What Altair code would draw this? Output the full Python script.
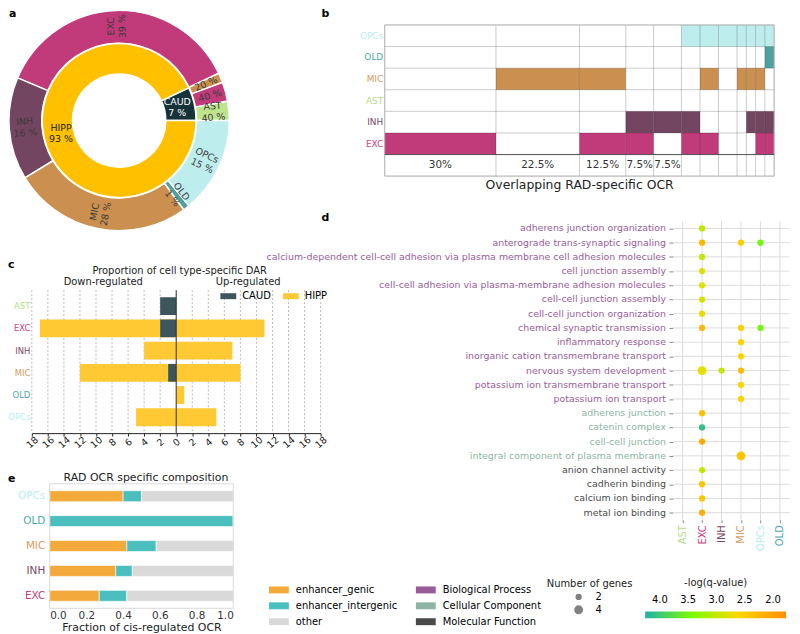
import altair as alt
import numpy as np
import pandas as pd

W, H = 790, 626


def P(v):
    """image pixel -> plot pixel (page margin is 8px)"""
    return v - 8


# ------------------------------------------------------------------ colours
CELL_FILL = {"AST": "#BFE48D", "EXC": "#C13B7A", "INH": "#734560",
             "MIC": "#CB8F4F", "OLD": "#4DA19F", "OPCs": "#BEEDEE"}
CELL_TEXT = {"AST": "#B3DE86", "EXC": "#C8427F", "INH": "#7A4A66",
             "MIC": "#D69C5E", "OLD": "#4DAAA6", "OPCs": "#B8EEF0"}
REGION_FILL = {"CAUD": "#17333A", "HIPP": "#FFC000"}

# ------------------------------------------------------------------ panel a data
regions = ["CAUD", "HIPP"]
region_pct = [7, 93]
caud_cells = ["AST", "EXC", "MIC"]
caud_pct = [40, 40, 20]
caud_named = [True, False, False]
hipp_cells = ["EXC", "INH", "MIC", "OLD", "OPCs"]
hipp_pct = [39, 16, 28, 1, 15]

# ------------------------------------------------------------------ panel b data
b_rows = ["OPCs", "OLD", "MIC", "AST", "INH", "EXC"]
b_pct = [30, 22.5, 12.5, 7.5, 7.5, 5, 5, 5, 2.5, 2.5, 2.5, 2.5]
b_label = ["30%", "22.5%", "12.5%", "7.5%", "7.5%", "", "", "", "", "", "", ""]
b_members = [["EXC"], ["MIC"], ["MIC", "EXC"], ["INH", "EXC"], ["INH"],
             ["OPCs", "INH", "EXC"], ["OPCs", "MIC", "EXC"], ["OPCs"],
             ["OPCs", "MIC"], ["OPCs", "MIC", "INH"],
             ["OPCs", "MIC", "INH", "EXC"], ["OPCs", "OLD", "INH", "EXC"]]

# ------------------------------------------------------------------ panel c data
c_cells = ["AST", "EXC", "INH", "MIC", "OLD", "OPCs"]
c_hipp_down = [0, 17, 4, 12, 0, 5]
c_hipp_up = [0, 11, 7, 8, 1, 5]
c_caud_down = [2, 2, 0, 1, 0, 0]
c_caud_up = [0, 0, 0, 0, 0, 0]
c_ticks = list(range(-18, 19, 2))

# ------------------------------------------------------------------ panel d data
d_terms = ["adherens junction organization",
           "anterograde trans-synaptic signaling",
           "calcium-dependent cell-cell adhesion via plasma membrane cell adhesion molecules",
           "cell junction assembly",
           "cell-cell adhesion via plasma-membrane adhesion molecules",
           "cell-cell junction assembly",
           "cell-cell junction organization",
           "chemical synaptic transmission",
           "inflammatory response",
           "inorganic cation transmembrane transport",
           "nervous system development",
           "potassium ion transmembrane transport",
           "potassium ion transport",
           "adherens junction",
           "catenin complex",
           "cell-cell junction",
           "integral component of plasma membrane",
           "anion channel activity",
           "cadherin binding",
           "calcium ion binding",
           "metal ion binding"]
d_term_cat = (["Biological Process"] * 13 + ["Cellular Component"] * 4
              + ["Molecular Function"] * 4)
d_cats = ["Biological Process", "Cellular Component", "Molecular Function"]
d_cat_colors = ["#985C98", "#8DB4A4", "#4A4A4A"]
d_cols = ["AST", "EXC", "INH", "MIC", "OPCs", "OLD"]
d_pt_term = [0, 1, 1, 1, 2, 3, 4, 5, 6, 7, 7, 7, 8, 9, 10, 10, 10,
             11, 12, 13, 14, 15, 16, 17, 18, 19, 20]
d_pt_cell = ["EXC", "EXC", "MIC", "OPCs", "EXC", "EXC", "EXC", "EXC", "EXC",
             "EXC", "MIC", "OPCs", "MIC", "MIC", "EXC", "INH", "MIC",
             "MIC", "MIC", "EXC", "EXC", "EXC", "MIC", "EXC", "EXC", "EXC", "EXC"]
d_pt_q = [3.0, 2.25, 2.5, 3.5, 3.0, 2.8, 2.8, 2.85, 2.75, 2.25, 2.5, 3.5,
          2.55, 2.55, 2.75, 3.0, 2.3, 2.55, 2.55, 2.35, 4.1, 2.1, 2.4,
          3.0, 2.4, 2.4, 2.15]
d_pt_genes = [2, 2, 2, 2, 2, 2, 2, 2, 2, 2, 2, 2, 2, 2, 4, 2, 2,
              2, 2, 2, 2, 2, 4, 2, 2, 2, 2]
q_domain = [4.26, 3.43, 2.6, 1.77]
q_colors = ["#20B2AA", "#7CFC00", "#FFD700", "#FF8C00"]
q_ticks = [4.0, 3.5, 3.0, 2.5, 2.0]

# ------------------------------------------------------------------ panel e data
e_cells = ["OPCs", "OLD", "MIC", "INH", "EXC"]
e_genic = [0.40, 0.0, 0.42, 0.36, 0.27]
e_inter = [0.10, 1.0, 0.16, 0.09, 0.15]
e_other = [0.50, 0.0, 0.42, 0.55, 0.58]
e_comp = ["enhancer_genic", "enhancer_intergenic", "other"]
e_colors = ["#F4AA3B", "#4BBFBE", "#D9D9D9"]


# ------------------------------------------------------------------ helpers
def cond(mapping, default="#333333"):
    return {"condition": [{"test": f"datum.value === '{k}'", "value": v}
                          for k, v in mapping.items()],
            "value": default}


def txt(s, x, y, size=10, weight="normal", align="center", color="#222222"):
    return alt.Chart(pd.DataFrame({"t": [s]})).mark_text(
        fontSize=size, fontWeight=weight, align=align, baseline="middle",
        color=color).encode(text="t:N", x=alt.value(P(x)), y=alt.value(P(y)))


one = pd.DataFrame({"a": [0]})
RECT_WIDE = "M-1,-0.35H1V0.35H-1Z"
TWO_LINE_DY = {"expr": "indexof(datum.lbl, '\\n') >= 0 ? -6 : 0"}

# ================================================================== panel a
inner = pd.DataFrame({"key": regions, "v": region_pct,
                      "lbl": [f"{r}\n{p} %" for r, p in zip(regions, region_pct)]})
inner["order"] = range(len(inner))

o_keys, o_cells, o_vals, o_lbls = [], [], [], []
for c, p, nm in zip(caud_cells, caud_pct, caud_named):
    o_keys.append("CAUD_" + c); o_cells.append(c)
    o_vals.append(region_pct[0] * p / 100.0)
    o_lbls.append(f"{c}\n{p} %" if nm else f"{p} %")
for c, p in zip(hipp_cells, hipp_pct):
    o_keys.append("HIPP_" + c); o_cells.append(c)
    o_vals.append(region_pct[1] * p / 100.0)
    o_lbls.append(f"{c}\n{p} %")
outer = pd.DataFrame({"key": o_keys, "cell": o_cells, "v": o_vals, "lbl": o_lbls})
outer["order"] = range(len(outer))
mid = (outer.v.cumsum() - outer.v / 2) / outer.v.sum() * 360.0
rot = np.where(np.cos(np.radians(mid)) >= -0.05, mid, mid + 180.0)
outer["ang"] = (-rot) % 360.0

theta_sc = alt.Scale(range=[2.5 * np.pi, 0.5 * np.pi])
CX, CY = alt.value(P(120)), alt.value(P(119))
theta_enc = alt.Theta("v:Q", stack="normalize", scale=theta_sc)

outer_arc = alt.Chart(outer).mark_arc(radius=111, radius2=78, stroke="white",
                                      strokeWidth=1.5).encode(
    theta=theta_enc, order=alt.Order("order:Q"),
    color=alt.Color("key:N", scale=alt.Scale(domain=o_keys,
                                             range=[CELL_FILL[c] for c in o_cells]),
                    legend=None),
    x=CX, y=CY)
outer_txt = alt.Chart(outer).mark_text(radius=95, fontSize=9.5, lineBreak="\n",
                                       color="#3A3A3A", dy=TWO_LINE_DY).encode(
    theta=theta_enc, order=alt.Order("order:Q"), detail="key:N",
    text="lbl:N", angle=alt.Angle("ang:Q", scale=None), x=CX, y=CY)
inner_arc = alt.Chart(inner).mark_arc(radius=77.5, radius2=47, stroke="white",
                                      strokeWidth=1.5).encode(
    theta=theta_enc, order=alt.Order("order:Q"),
    color=alt.Color("key:N", scale=alt.Scale(domain=regions,
                                             range=[REGION_FILL[r] for r in regions]),
                    legend=None),
    x=CX, y=CY)
inner_txt = alt.Chart(inner).mark_text(radius=60, fontSize=9.5, lineBreak="\n",
                                       dy=TWO_LINE_DY).encode(
    theta=theta_enc, order=alt.Order("order:Q"),
    color=alt.Color("key:N", scale=alt.Scale(domain=regions, range=["#FFFFFF", "#222222"]),
                    legend=None),
    text="lbl:N", x=CX, y=CY)

# ================================================================== panel b
b_total = float(sum(b_pct))
b_x1 = np.cumsum(b_pct)
b_x0 = b_x1 - np.array(b_pct)
b_cells = pd.DataFrame([{"row": r, "x0": b_x0[i], "x1": b_x1[i]}
                        for i, mem in enumerate(b_members) for r in mem])
b_grid = pd.DataFrame([{"row": r, "x0": b_x0[i], "x1": b_x1[i]}
                       for i in range(len(b_pct)) for r in b_rows + ["strip"]])
b_cols = pd.DataFrame({"row": "strip", "mid": (b_x0 + b_x1) / 2, "lbl": b_label})

bx = alt.Scale(domain=[0, b_total], range=[P(387.6), P(780)], nice=False, zero=False)
by = alt.Scale(type="band", domain=b_rows + ["strip"], range=[P(22.7), P(175)],
               paddingInner=0, paddingOuter=0)

b_fill = alt.Chart(b_cells).mark_rect().encode(
    x=alt.X("x0:Q", scale=bx, axis=None), x2="x1:Q",
    y=alt.Y("row:N", scale=by, axis=alt.Axis(
        orient="left", offset=-P(387.6), title=None, ticks=False, domain=False,
        grid=False, labelFontSize=9, labelPadding=2, labelColor=cond(CELL_TEXT),
        labelExpr="datum.value == 'strip' ? '' : datum.value")),
    color=alt.Color("row:N", scale=alt.Scale(domain=b_rows,
                                             range=[CELL_FILL[r] for r in b_rows]),
                    legend=None))
b_gridl = alt.Chart(b_grid).mark_rect(fillOpacity=0, stroke="#000000",
                                      strokeOpacity=0.11, strokeWidth=1).encode(
    x=alt.X("x0:Q", scale=bx, axis=None), x2="x1:Q",
    y=alt.Y("row:N", scale=by, axis=None))
b_frame = alt.Chart(one).mark_rect(fillOpacity=0, stroke="#B4B4B4", strokeWidth=1).encode(
    x=alt.X(datum=0, type="quantitative", scale=bx, axis=None),
    x2=alt.X2(datum=b_total), y=alt.value(P(22.7)), y2=alt.value(P(175)))
b_base = alt.Chart(one).mark_rule(color="#555555", strokeWidth=1).encode(
    x=alt.X(datum=0, type="quantitative", scale=bx, axis=None),
    x2=alt.X2(datum=b_total), y=alt.value(P(153.3)))
b_text = alt.Chart(b_cols).mark_text(fontSize=10.5, color="#333333").encode(
    x=alt.X("mid:Q", scale=bx, axis=None),
    y=alt.Y("row:N", scale=by, axis=None), text="lbl:N")

# ================================================================== panel c
c_rows = []
for reg, down, up in (("HIPP", c_hipp_down, c_hipp_up), ("CAUD", c_caud_down, c_caud_up)):
    for cell, d, u in zip(c_cells, down, up):
        if d:
            c_rows.append({"cell": cell, "region": reg, "x0": -d, "x1": 0})
        if u:
            c_rows.append({"cell": cell, "region": reg, "x0": 0, "x1": u})
c_df = pd.DataFrame(c_rows)

cx = alt.Scale(domain=[-18, 18], range=[P(32), P(323)], nice=False, zero=False)
cy = alt.Scale(type="band", domain=c_cells, range=[P(290), P(434)],
               paddingInner=0.2, paddingOuter=0.315)

c_grid = alt.Chart(pd.DataFrame({"t": c_ticks})).mark_rule(
    color="#9A9A9A", strokeWidth=0.7, strokeDash=[2, 2]).encode(
    x=alt.X("t:Q", scale=cx, axis=None), y=alt.value(P(290)), y2=alt.value(P(434)))
c_bars = alt.Chart(c_df).mark_bar().encode(
    x=alt.X("x0:Q", scale=cx, axis=alt.Axis(
        orient="bottom", offset=P(434) - H, values=c_ticks,
        labelExpr="'' + abs(datum.value)", labelAngle=320, labelAlign="center",
        labelBaseline="middle", labelPadding=6, tickSize=3, labelFontSize=9.5,
        grid=False, domainColor="#222222", tickColor="#222222", labelColor="#222222",
        title=None)),
    x2="x1:Q",
    y=alt.Y("cell:N", scale=cy, axis=alt.Axis(
        orient="left", offset=-P(32), title=None, ticks=False, domain=False,
        grid=False, labelFontSize=8.5, labelPadding=2, labelColor=cond(CELL_TEXT))),
    color=alt.Color("region:N",
                    scale=alt.Scale(domain=["CAUD", "HIPP"], range=["#3C565C", "#FFC933"]),
                    legend=alt.Legend(orient="none", legendX=P(222), legendY=P(288),
                                      direction="horizontal", title=None,
                                      symbolType="M-1,-0.375H1V0.375H-1Z", symbolSize=256,
                                      symbolStrokeWidth=0, labelFontSize=10, labelOffset=6,
                                      columnPadding=12, padding=0)))
c_zero = alt.Chart(one).mark_rule(color="#333333", strokeWidth=1).encode(
    x=alt.X(datum=0, type="quantitative", scale=cx, axis=None),
    y=alt.value(P(290)), y2=alt.value(P(434)))

# ================================================================== panel d
d_pts = pd.DataFrame({"term": [d_terms[i] for i in d_pt_term], "cell": d_pt_cell,
                      "q": d_pt_q, "genes": d_pt_genes})
d_lab = pd.DataFrame({"term": d_terms, "cat": d_term_cat})

dx = alt.Scale(type="point", domain=d_cols, range=[P(678), P(795.6)], padding=0.5)
dy = alt.Scale(type="point", domain=d_terms, range=[P(220.6), P(521.3)], padding=0.5)

d_vgrid = alt.Chart(pd.DataFrame({"cell": d_cols})).mark_rule(
    color="#DCDCDC", strokeWidth=1).encode(
    x=alt.X("cell:N", scale=dx, axis=None), y=alt.value(P(220.6)), y2=alt.value(P(521.3)))
d_hgrid = alt.Chart(pd.DataFrame({"term": d_terms})).mark_rule(
    color="#DCDCDC", strokeWidth=1).encode(
    y=alt.Y("term:N", scale=dy, axis=None), x=alt.value(P(678)), x2=alt.value(P(795.6)))
d_dots = alt.Chart(d_pts).mark_circle(opacity=1).encode(
    x=alt.X("cell:N", scale=dx, axis=alt.Axis(
        orient="bottom", offset=P(521.3) - H, labelAngle=270, labelColor=cond(CELL_TEXT),
        labelFontSize=10, tickSize=3, tickColor="#888888", grid=False,
        domain=False, title=None, labelPadding=2)),
    y=alt.Y("term:N", scale=dy, axis=alt.Axis(
        orient="left", offset=-P(678), labels=False, tickSize=4, tickColor="#888888",
        grid=False, domain=False, title=None)),
    color=alt.Color("q:Q", scale=alt.Scale(domain=q_domain, range=q_colors, interpolate="rgb"),
                    legend=alt.Legend(orient="none", legendX=P(650), legendY=P(613.6),
                                      direction="horizontal", gradientLength=142,
                                      gradientThickness=7, title=None, values=q_ticks,
                                      format=".1f", labelFontSize=10,
                                      labelOffset={"expr": "-23"},
                                      labelAlign="center", padding=0)),
    size=alt.Size("genes:Q", scale=alt.Scale(domain=[0, 4], range=[0, 80]),
                  legend=alt.Legend(orient="none", legendX=P(578), legendY=P(594),
                                    title=None, values=[2, 4], symbolType="circle",
                                    symbolFillColor="#808080", symbolStrokeWidth=0,
                                    symbolOpacity=1, labelFontSize=10, labelOffset=12,
                                    rowPadding=3, padding=0)))
d_labels = alt.Chart(d_lab).mark_text(align="right", baseline="middle", fontSize=9.5).encode(
    y=alt.Y("term:N", scale=dy, axis=None), x=alt.value(P(671)), text="term:N",
    color=alt.Color("cat:N", scale=alt.Scale(domain=d_cats, range=d_cat_colors),
                    legend=alt.Legend(orient="none", legendX=P(419), legendY=P(582),
                                      title=None, symbolType=RECT_WIDE, symbolSize=400,
                                      symbolStrokeWidth=0, symbolOpacity=1,
                                      labelFontSize=10, labelOffset=7, rowPadding=1,
                                      padding=0)))

# ================================================================== panel e
e_rows = []
for ci, (comp, vals) in enumerate(zip(e_comp, (e_genic, e_inter, e_other))):
    for cell, v in zip(e_cells, vals):
        e_rows.append({"cell": cell, "comp": comp, "f": v, "ci": ci})
e_df = pd.DataFrame(e_rows)

ex = alt.Scale(domain=[0, 1], range=[P(50), P(235)], nice=False, zero=False)
ey = alt.Scale(type="band", domain=e_cells, range=[P(485), P(610.5)],
               paddingInner=0.56, paddingOuter=0.28)

e_bars = alt.Chart(e_df).mark_bar(stroke="white", strokeWidth=0.6).encode(
    x=alt.X("f:Q", stack="zero", scale=ex, axis=alt.Axis(
        orient="bottom", offset=P(610.5) - H, values=[0, 0.2, 0.4, 0.6, 0.8, 1.0],
        format=".1f", labelFontSize=10.5, ticks=False, domain=False, grid=False,
        labelPadding=2, labelColor="#333333", title="Fraction of cis-regulated OCR",
        titleFontSize=11, titleFontWeight="normal", titlePadding=1, titleColor="#222222")),
    y=alt.Y("cell:N", scale=ey, axis=alt.Axis(
        orient="left", offset=-P(50), title=None, ticks=False, domain=False, grid=False,
        labelFontSize=10.5, labelPadding=5, labelColor=cond(CELL_TEXT))),
    color=alt.Color("comp:N", scale=alt.Scale(domain=e_comp, range=e_colors),
                    legend=alt.Legend(orient="none", legendX=P(271), legendY=P(582),
                                      title=None, symbolType=RECT_WIDE, symbolSize=400,
                                      symbolStrokeWidth=0, labelFontSize=10, labelOffset=7,
                                      rowPadding=1, padding=0)),
    order=alt.Order("ci:Q"))
e_frame = alt.Chart(one).mark_rect(fillOpacity=0, stroke="#DADADA", strokeWidth=1).encode(
    x=alt.X(datum=0, type="quantitative", scale=ex, axis=None),
    x2=alt.X2(datum=1), y=alt.value(P(485)), y2=alt.value(P(610.5)))

# ================================================================== annotations
notes = [
    txt("a", 9, 12, 11, "bold", "left", "#000000"),
    txt("b", 324, 12, 11, "bold", "left", "#000000"),
    txt("c", 8, 265, 11, "bold", "left", "#000000"),
    txt("d", 324, 217, 11, "bold", "left", "#000000"),
    txt("e", 8, 480, 11, "bold", "left", "#000000"),
    txt("Overlapping RAD-specific OCR", 584, 184, 12.5),
    txt("Proportion of cell type-specific DAR", 181, 271, 10),
    txt("Down-regulated", 104, 282, 10),
    txt("Up-regulated", 250, 282, 10),
    txt("RAD OCR specific composition", 147, 479, 11),
    txt("Number of genes", 594, 586, 10),
    txt("-log(q-value)", 721, 585, 10),
]

chart = alt.layer(
    outer_arc, inner_arc, outer_txt, inner_txt,
    b_fill, b_gridl, b_frame, b_base, b_text,
    c_grid, c_bars, c_zero,
    d_vgrid, d_hgrid, d_dots, d_labels,
    e_bars, e_frame,
    *notes,
).resolve_scale(
    x="independent", y="independent", color="independent",
    size="independent", theta="independent",
).properties(
    width=W, height=H, padding=0, autosize=alt.AutoSizeParams(type="none"),
).configure(font="DejaVu Sans").configure_view(stroke=None)

chart.save("out.html", embed_options={"renderer": "svg", "actions": False})
